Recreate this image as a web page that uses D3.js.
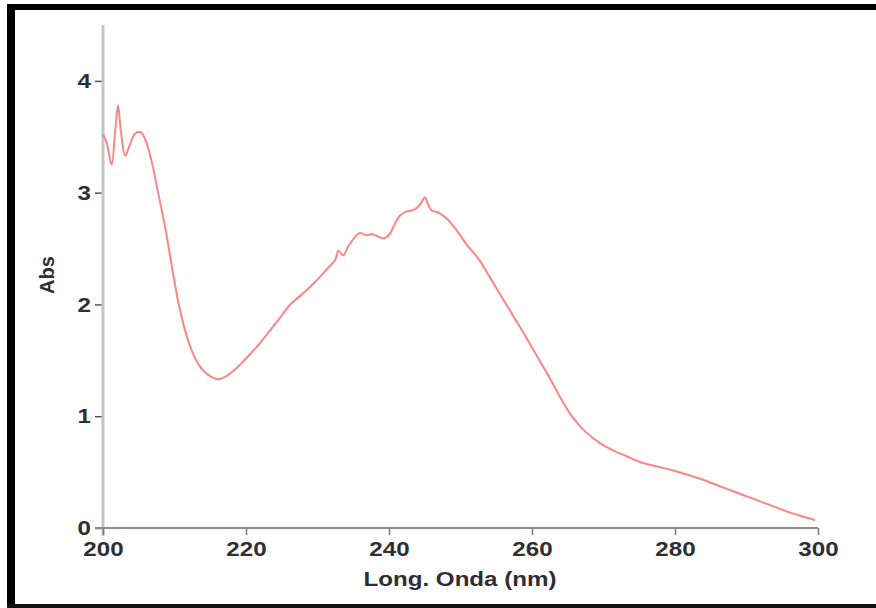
<!DOCTYPE html>
<html lang="es">
<head>
<meta charset="UTF-8">
<title>Espectro UV - Abs vs Long. Onda</title>
<script src="https://d3js.org/d3.v7.min.js"></script>
<style>
    body { margin: 0; background: #fff; }
    svg text { font-family: "Liberation Sans", Arial, sans-serif; font-weight: bold; fill: #2e2e33; }
</style>
</head>
<body>
<div id="chart"></div>
<script>
// wavelength (nm) and absorbance
const wavelength = [200.0, 200.5, 201.2, 201.7, 202.1, 202.5, 203.1, 203.7, 204.5, 205.3, 206.0, 206.8, 207.7, 208.7, 209.6, 210.6, 211.7, 212.8, 214.0, 215.2, 216.1, 217.3, 218.5, 219.9, 221.5, 223.0, 224.5, 226.2, 228.0, 229.8, 231.5, 232.5, 232.9, 233.6, 234.3, 235.2, 235.9, 236.8, 237.6, 238.4, 239.2, 240.1, 240.8, 241.6, 242.4, 243.2, 244.0, 244.6, 245.0, 245.5, 246.0, 247.0, 248.2, 249.5, 250.8, 252.5, 254.5, 256.2, 258.3, 260.4, 262.5, 264.2, 265.7, 267.5, 269.5, 271.5, 273.3, 275.1, 277.5, 280.0, 283.5, 286.0, 288.5, 291.0, 293.5, 296.0, 298.0, 299.6];
const absorbance = [3.52, 3.45, 3.25, 3.55, 3.78, 3.55, 3.33, 3.42, 3.53, 3.54, 3.46, 3.28, 3.00, 2.69, 2.35, 2.00, 1.72, 1.53, 1.41, 1.35, 1.33, 1.36, 1.42, 1.51, 1.62, 1.74, 1.86, 2.00, 2.10, 2.21, 2.33, 2.40, 2.48, 2.44, 2.52, 2.60, 2.64, 2.62, 2.63, 2.61, 2.59, 2.63, 2.72, 2.80, 2.83, 2.84, 2.87, 2.92, 2.96, 2.89, 2.84, 2.82, 2.76, 2.66, 2.54, 2.41, 2.20, 2.02, 1.80, 1.57, 1.34, 1.14, 0.99, 0.86, 0.76, 0.69, 0.64, 0.59, 0.55, 0.51, 0.44, 0.38, 0.32, 0.26, 0.20, 0.14, 0.10, 0.07];
const xTicks = [200, 220, 240, 260, 280, 300];
const yTicks = [0, 1, 2, 3, 4];

const width = 876, height = 608;
const svg = d3.select("#chart").append("svg")
    .attr("width", width)
    .attr("height", height);

svg.append("rect").attr("width", width).attr("height", height).attr("fill", "#fff");

// black frame (left, top, bottom)
svg.append("rect").attr("x", 7).attr("y", 4).attr("width", 8).attr("height", 604).attr("fill", "#000");
svg.append("rect").attr("x", 7).attr("y", 4).attr("width", 869).attr("height", 6).attr("fill", "#000");
svg.append("rect").attr("x", 7).attr("y", 604).attr("width", 869).attr("height", 4).attr("fill", "#111");

const x = d3.scaleLinear().domain([200, 300]).range([103, 818]);
const y = d3.scaleLinear().domain([0, 4.5]).range([528, 25]);

// y axis
const yAxis = svg.append("g")
    .attr("transform", `translate(${x(200)},0)`)
    .call(d3.axisLeft(y).tickValues(yTicks).tickSize(8).tickSizeOuter(0).tickFormat(d3.format("d")));
yAxis.select(".domain").remove();
yAxis.selectAll(".tick line").attr("stroke", "#555").attr("stroke-width", 1.5);
yAxis.selectAll(".tick text")
    .attr("x", -12 / 1.15)
    .style("font-size", "21px")
    .attr("transform", "scale(1.15,1)");
svg.append("line")
    .attr("x1", x(200)).attr("x2", x(200))
    .attr("y1", y(4.5)).attr("y2", 536)
    .attr("stroke", "#c4c4c4").attr("stroke-width", 3);

// x axis
const xAxis = svg.append("g")
    .attr("transform", `translate(0,${y(0)})`)
    .call(d3.axisBottom(x).tickValues(xTicks).tickSize(7).tickSizeOuter(0));
xAxis.select(".domain").remove();
xAxis.selectAll(".tick line").attr("stroke", "#777").attr("stroke-width", 1.5);
xAxis.selectAll(".tick text")
    .attr("y", 13)
    .style("font-size", "21px")
    .attr("transform", "scale(1.15,1)");
svg.append("line")
    .attr("x1", 95).attr("x2", x(300))
    .attr("y1", y(0)).attr("y2", y(0))
    .attr("stroke", "#8c8c8c").attr("stroke-width", 2);

// axis titles
svg.append("text")
    .attr("transform", "translate(460,586) scale(1.15,1)")
    .attr("text-anchor", "middle")
    .style("font-size", "21px")
    .text("Long. Onda (nm)");

svg.append("text")
    .attr("transform", "translate(54,275) rotate(-90)")
    .attr("text-anchor", "middle")
    .style("font-size", "20px")
    .text("Abs");

// spectrum
const line = d3.line()
    .x(d => x(d[0]))
    .y(d => y(d[1]))
    .curve(d3.curveCatmullRom);

svg.append("path")
    .datum(wavelength.map((w, i) => [w, absorbance[i]]))
    .attr("fill", "none")
    .attr("stroke", "#ff8484")
    .attr("stroke-width", 2)
    .attr("d", line);
</script>
</body>
</html>
